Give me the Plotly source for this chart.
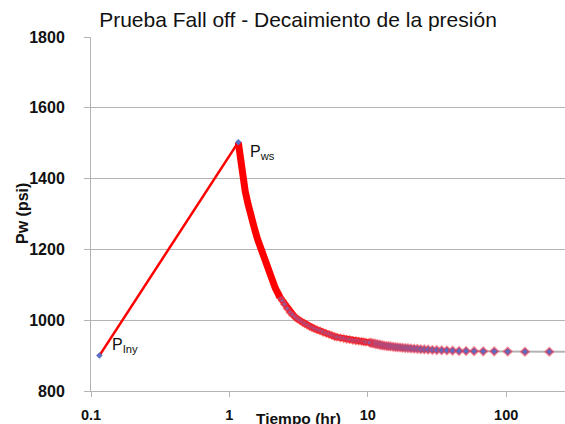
import plotly.graph_objects as go

# Inyeccion: de P_iny hasta P_ws
t_iny = [0.115, 1.16]
p_iny = [900, 1503]

# Caida de presion, primer tramo (muy denso)
t_caida1 = [1.16, 1.20, 1.24, 1.30, 1.36, 1.41, 1.47, 1.53, 1.60, 1.69, 1.78, 1.88,
            2.02, 2.15, 2.32]
p_caida1 = [1503, 1450, 1400, 1365, 1330, 1302, 1277, 1254, 1228, 1202, 1178, 1150,
            1112, 1090, 1065]

# Caida de presion, segundo tramo
t_caida2 = [2.32, 2.42, 2.50, 2.62, 2.75, 2.87, 3.00, 3.12, 3.24, 3.37, 3.50, 3.65,
            3.80, 3.95, 4.10, 4.30, 4.52, 4.75, 5.00, 5.25, 5.50, 5.75, 6.00, 6.35,
            6.70, 7.05, 7.40, 7.80, 8.20, 8.60, 9.00, 9.35, 9.70, 10.25]
p_caida2 = [1065, 1055, 1045, 1033, 1022, 1015, 1008, 1003, 999, 994, 990, 986,
            982, 979, 976, 973, 970, 966, 963, 960, 957, 954, 952, 950,
            948, 946, 945, 943, 942, 941, 940, 939, 938, 937]

# Cola de la caida (puntos separados)
t_cola = [10.5, 10.8, 11.1, 11.4, 11.7, 12.1, 12.4, 12.8, 13.2, 13.7, 14.1, 14.6,
          15.2, 15.8, 16.4, 17.1, 17.8, 18.6, 19.5, 20.5, 21.6, 22.8, 24.1, 25.6,
          27.3, 29.3, 31.5, 34.2, 37.3, 41.0, 45.6, 51.3, 58.6, 68.3, 82.0, 102.5,
          136.7, 205.0]
p_cola = [936, 935, 934, 933, 932, 931, 930, 929, 928, 927, 926.5, 926,
          925, 924, 923.5, 923, 922, 921.5, 921, 920, 919.5, 919, 918, 917.5,
          917, 916, 915.5, 915, 914.5, 914, 913, 913, 912.5, 912, 912, 911.5,
          911, 911]

# Linea gris al final
t_final = [205.0, 266.0]
p_final = [911, 911]

color_rojo = '#ff0000'
color_marca = '#5b6cc4'
color_borde = 'rgba(240,50,70,0.55)'
color_gris = '#b3b3b3'
color_texto = '#111111'

marca = dict(symbol='diamond', size=6, color=color_marca,
             line=dict(color=color_borde, width=2))

fig = go.Figure()

fig.add_trace(go.Scatter(x=t_final, y=p_final, mode='lines',
                         line=dict(color=color_gris, width=2), hoverinfo='skip'))
fig.add_trace(go.Scatter(x=t_cola, y=p_cola, mode='lines+markers',
                         line=dict(color=color_gris, width=2), marker=marca))
fig.add_trace(go.Scatter(x=t_caida2, y=p_caida2, mode='lines+markers',
                         line=dict(color=color_rojo, width=6),
                         marker=dict(symbol='diamond', size=5, color='#8a5fa8',
                                     line=dict(color='rgba(255,30,30,0.6)', width=2))))
fig.add_trace(go.Scatter(x=t_caida1, y=p_caida1, mode='lines',
                         line=dict(color=color_rojo, width=7)))
fig.add_trace(go.Scatter(x=t_iny, y=p_iny, mode='lines+markers',
                         line=dict(color=color_rojo, width=2.5),
                         marker=dict(symbol='diamond', size=5, color=color_marca)))

fig.update_layout(
    width=565,
    height=424,
    margin=dict(l=91, r=0, t=37, b=33),
    plot_bgcolor='white',
    paper_bgcolor='white',
    showlegend=False,
    font=dict(family='Liberation Sans, Arial, sans-serif', color=color_texto),
    title=dict(text='Prueba Fall off - Decaimiento de la presión',
               font=dict(size=21, color=color_texto),
               x=298 / 565, xanchor='center', y=1 - 20 / 424, yanchor='middle'),
)

fig.update_xaxes(
    type='log',
    range=[-1, 2.425],
    tickvals=[0.1, 1, 10, 100],
    ticktext=['0.1', '1', '10', '100'],
    tickfont=dict(size=14.5, weight='bold', color=color_texto),
    showgrid=False,
    showline=True,
    linecolor=color_gris,
    linewidth=1,
    ticks='outside',
    ticklen=5,
    tickcolor=color_gris,
    ticklabelstandoff=6,
)

fig.update_yaxes(
    range=[800, 1800],
    dtick=200,
    tickfont=dict(size=16, weight='bold', color=color_texto),
    showgrid=True,
    gridcolor=color_gris,
    gridwidth=1,
    zeroline=False,
    showline=True,
    linecolor=color_gris,
    linewidth=1,
    ticks='outside',
    ticklen=6,
    tickcolor=color_gris,
    ticklabelstandoff=16,
)

# Titulos de ejes
fig.add_annotation(text='<b>Tiempo (hr)</b>', xref='paper', yref='paper',
                   x=(298 - 91) / 474, y=-(418 - 391) / 354, showarrow=False,
                   xanchor='center', yanchor='middle', font=dict(size=15.5))
fig.add_annotation(text='<b>Pw (psi)</b>', xref='paper', yref='paper',
                   x=(22 - 91) / 474, y=0.5, showarrow=False, textangle=-90,
                   xanchor='center', yanchor='middle', font=dict(size=16))

# Etiquetas de puntos
fig.add_annotation(text='P<sub>Iny</sub>', x=-0.863, y=929, showarrow=False,
                   xanchor='left', yanchor='middle', font=dict(size=16))
fig.add_annotation(text='P<sub>ws</sub>', x=0.134, y=1473, showarrow=False,
                   xanchor='left', yanchor='middle', font=dict(size=16))

fig.write_html("out.html", config={'displayModeBar': False},
               post_script="document.body.style.margin='0';")
